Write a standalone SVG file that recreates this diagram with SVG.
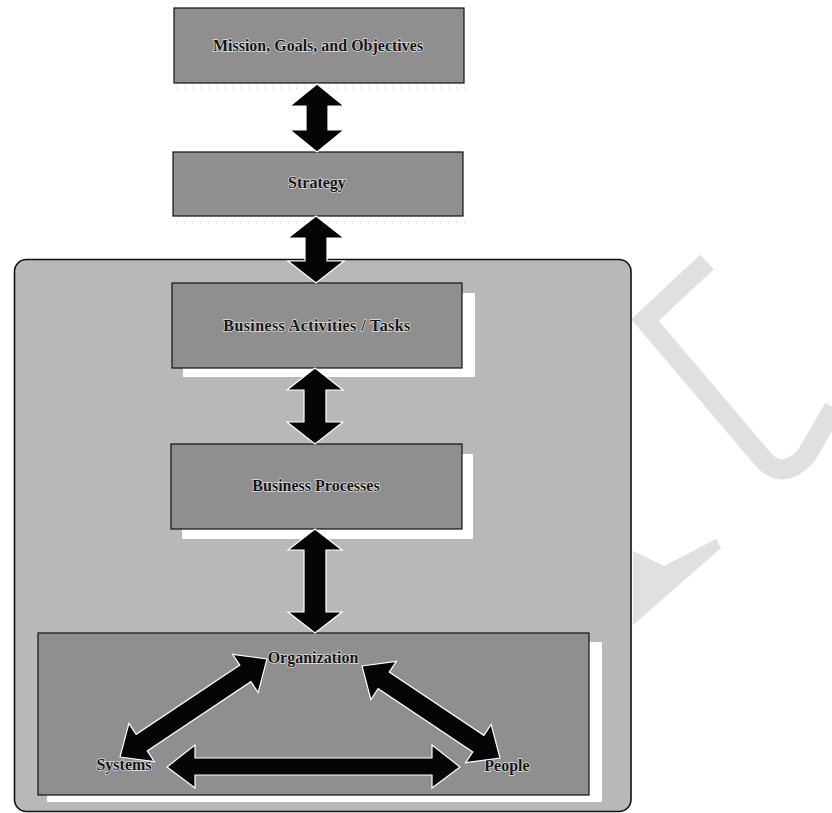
<svg xmlns="http://www.w3.org/2000/svg" width="832" height="813" viewBox="0 0 832 813">
  <style>
    .box { fill: #8f8f8f; stroke: #111; stroke-width: 1.2; }
    .shadow { fill: #ffffff; }
    .label { font-family: "Liberation Serif", "Times New Roman", serif; font-weight: bold; font-size: 16px; fill: #141414; text-anchor: middle; stroke: #ffffff; stroke-width: 1.3; stroke-opacity: 0.75; paint-order: stroke; }
    .arrow { fill: #050505; stroke: #ffffff; stroke-width: 1.2; stroke-linejoin: miter; }
    .faint { fill: none; stroke: #b8b8b8; stroke-width: 1; stroke-dasharray: 1 7; }
    .mark { fill: none; stroke: #e0e0e0; stroke-linejoin: miter; }
  </style>

  <rect x="0" y="0" width="832" height="813" fill="#ffffff"/>

  <!-- light background letter fragments at the right -->
  <g id="backdrop-marks">
    <path class="mark" stroke-width="20" d="M 707 262 L 645 320 L 762 458 Q 782 482 806 456 L 834 408"/>
    <polygon fill="#e0e0e0" points="633,551 664,566 716,539 721,548 633,625"/>
  </g>

  <!-- enclosing panel -->
  <g id="panel">
    <rect x="14.5" y="259.5" width="616.5" height="552" rx="12" ry="12" fill="#b8b8b8" stroke="#111" stroke-width="1.6"/>
  </g>

  <!-- faint dotted shade lines under the two upper boxes -->
  <line class="faint" x1="176" y1="88" x2="466" y2="88"/>
  <line class="faint" x1="176" y1="222" x2="466" y2="222"/>

  <g id="mission">
    <rect class="box" x="174" y="8" width="290" height="75"/>
    <text class="label" x="318" y="51">Mission, Goals, and Objectives</text>
  </g>

  <g id="strategy">
    <rect class="box" x="173" y="152" width="290" height="64"/>
    <text class="label" x="317" y="188">Strategy</text>
  </g>

  <g id="activities">
    <rect class="shadow" x="183" y="293" width="292" height="84"/>
    <rect class="box" x="172" y="283" width="290" height="85"/>
    <text class="label" x="317" y="331" letter-spacing="0.4">Business Activities / Tasks</text>
  </g>

  <g id="processes">
    <rect class="shadow" x="182" y="454" width="291" height="85"/>
    <rect class="box" x="171" y="444" width="291" height="85"/>
    <text class="label" x="316" y="491">Business Processes</text>
  </g>

  <g id="organization-panel">
    <rect class="shadow" x="47" y="642" width="555" height="160"/>
    <rect class="box" x="38" y="633" width="551" height="162"/>
  </g>

  <g id="organization">
    <text class="label" x="313" y="663">Organization</text>
  </g>
  <g id="systems">
    <text class="label" x="124" y="770">Systems</text>
  </g>
  <g id="people">
    <text class="label" x="507" y="771">People</text>
  </g>

  <!-- two-headed connectors -->
  <g id="connectors">
    <polygon class="arrow" points="317,84 344,106 328,106 328,130 344,130 317,152 290,130 306,130 306,106 290,106"/>
    <polygon class="arrow" points="316,216 344,238 327,238 327,261 344,261 316,283 288,261 305,261 305,238 288,238"/>
    <polygon class="arrow" points="315,368 343,390 326,390 326,422 343,422 315,444 287,422 304,422 304,390 287,390"/>
    <polygon class="arrow" points="315,529 342,550 326,550 326,612 342,612 315,633 288,612 304,612 304,550 288,550"/>
    <!-- Systems <-> Organization -->
    <polygon class="arrow" points="120,757 154.4,761.7 147.2,750.9 250.9,681.7 258.1,692.6 267,659 232.6,654.3 239.8,665.1 136.1,734.3 128.9,723.4"/>
    <!-- Organization <-> People -->
    <polygon class="arrow" points="362,666 396.4,661.3 389.2,672.1 483.9,735.3 491.1,724.4 500,758 465.6,762.7 472.8,751.9 378.1,688.7 370.9,699.6"/>
    <!-- Systems <-> People -->
    <polygon class="arrow" points="167,767 195,745 195,758 432,758 432,745 460,767 432,788 432,775 195,775 195,788"/>
  </g>
</svg>
